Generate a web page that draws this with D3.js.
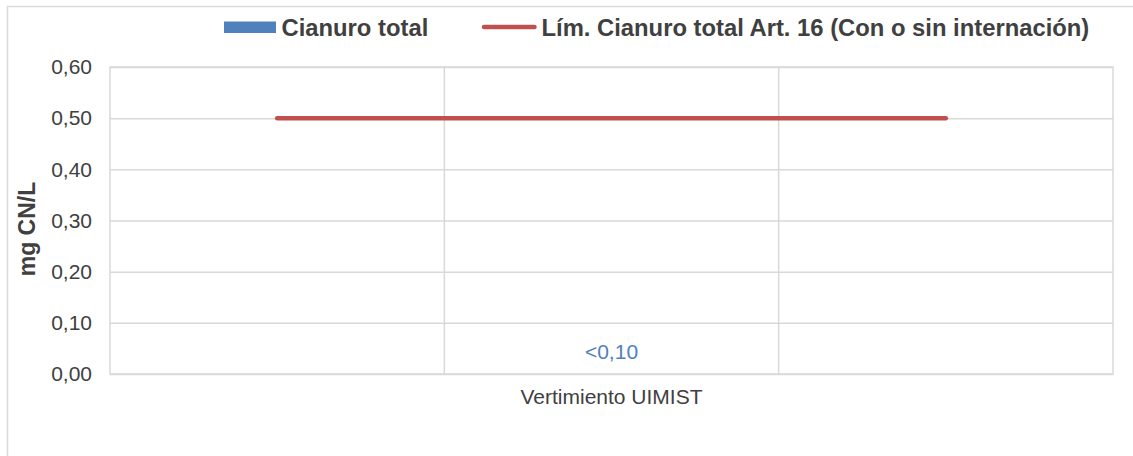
<!DOCTYPE html>
<html>
<head>
<meta charset="utf-8">
<script src="https://cdn.jsdelivr.net/npm/d3@7"></script>
<style>
  html, body { margin: 0; padding: 0; background: #fff; }
  svg { display: block; font-family: "Liberation Sans", Arial, sans-serif; }
</style>
</head>
<body>
<svg id="chart" width="1133" height="456"></svg>
<script>
// Sample category and measured total cyanide (reported below the detection limit)
const categories = ["Vertimiento UIMIST"];
const cianuroTotal = [0];
const cianuroLabels = ["<0,10"];

// Regulatory limit, drawn across three evenly spaced positions of a secondary axis
const limitPositions = ["a", "b", "c"];
const limitValues = [0.5, 0.5, 0.5];

// Y axis ticks
const yTicks = [0, 0.1, 0.2, 0.3, 0.4, 0.5, 0.6];

const seriesNames = ["Cianuro total", "Lím. Cianuro total Art. 16 (Con o sin internación)"];
const colors = { bar: "#4F81BD", line: "#C0504D", grid: "#D9D9D9", text: "#404040" };

const svg = d3.select("#chart");
const plot = { left: 110, top: 67, right: 1113, bottom: 374 };

// Outer chart frame
svg.append("rect")
  .attr("x", 7.5).attr("y", 6.5)
  .attr("width", 1140).attr("height", 470)
  .attr("fill", "#fff").attr("stroke", colors.grid).attr("stroke-width", 1.5);

const y = d3.scaleLinear().domain([0, 0.6]).range([plot.bottom, plot.top]);
const x = d3.scaleBand().domain(categories).range([plot.left, plot.right]).paddingInner(0).paddingOuter(0);
const x2 = d3.scaleBand().domain(limitPositions).range([plot.left, plot.right]);

const fmt = v => d3.format(".2f")(v).replace(".", ",");

// Horizontal gridlines
svg.append("g")
  .attr("transform", `translate(${plot.left},0)`)
  .call(d3.axisLeft(y).tickValues(yTicks).tickSize(-(plot.right - plot.left)).tickFormat(""))
  .call(g => g.select(".domain").remove())
  .call(g => g.selectAll("line").attr("stroke", colors.grid).attr("stroke-width", 1.5));

// Vertical gridlines at the secondary-axis band boundaries
svg.append("g").selectAll("line")
  .data(limitPositions.slice(1))
  .join("line")
  .attr("x1", d => x2(d)).attr("x2", d => x2(d))
  .attr("y1", plot.top).attr("y2", plot.bottom)
  .attr("stroke", colors.grid).attr("stroke-width", 1.5);

// Plot area frame
svg.append("rect")
  .attr("x", plot.left).attr("y", plot.top)
  .attr("width", plot.right - plot.left).attr("height", plot.bottom - plot.top)
  .attr("fill", "none").attr("stroke", colors.grid).attr("stroke-width", 1.5);

// Y axis tick labels
svg.append("g")
  .attr("transform", `translate(${plot.left},0)`)
  .call(d3.axisLeft(y).tickValues(yTicks).tickSize(0).tickPadding(18).tickFormat(fmt))
  .call(g => g.select(".domain").remove())
  .call(g => g.selectAll("text")
    .attr("fill", colors.text).attr("font-size", "21px")
    .attr("font-family", "'Liberation Sans', Arial, sans-serif"));

// X axis category label
svg.append("g")
  .attr("transform", `translate(0,${plot.bottom})`)
  .call(d3.axisBottom(x).tickSize(0).tickPadding(15))
  .call(g => g.select(".domain").remove())
  .call(g => g.selectAll("text")
    .attr("fill", colors.text).attr("font-size", "21px")
    .attr("font-family", "'Liberation Sans', Arial, sans-serif"));

// Cyanide bars
const barW = x.bandwidth() * 0.3;
svg.append("g").selectAll("rect")
  .data(categories)
  .join("rect")
  .attr("x", (d, i) => x(d) + x.bandwidth() / 2 - barW / 2)
  .attr("y", (d, i) => y(cianuroTotal[i]))
  .attr("width", barW)
  .attr("height", (d, i) => y(0) - y(cianuroTotal[i]))
  .attr("fill", colors.bar);

// Bar value labels
svg.append("g").selectAll("text")
  .data(categories)
  .join("text")
  .attr("x", d => x(d) + x.bandwidth() / 2)
  .attr("y", (d, i) => y(cianuroTotal[i]) - 15)
  .attr("text-anchor", "middle")
  .attr("font-size", "21px")
  .attr("fill", colors.bar)
  .text((d, i) => cianuroLabels[i]);

// Limit line
const line = d3.line()
  .x((d, i) => x2(limitPositions[i]) + x2.bandwidth() / 2)
  .y(d => y(d));
svg.append("path")
  .datum(limitValues)
  .attr("d", line)
  .attr("fill", "none")
  .attr("stroke", colors.line)
  .attr("stroke-width", 4.5)
  .attr("stroke-linecap", "round");

// Y axis title
svg.append("text")
  .attr("transform", `translate(35,229) rotate(-90)`)
  .attr("text-anchor", "middle")
  .attr("font-size", "23px")
  .attr("font-weight", "bold")
  .attr("fill", colors.text)
  .text("mg CN/L");

// Legend
const legend = svg.append("g");
legend.append("rect")
  .attr("x", 224).attr("y", 21.5).attr("width", 52).attr("height", 11.5)
  .attr("fill", colors.bar);
legend.append("text")
  .attr("x", 281.5).attr("y", 35.5)
  .attr("font-size", "23.8px").attr("font-weight", "bold").attr("fill", colors.text)
  .text(seriesNames[0]);
legend.append("line")
  .attr("x1", 484).attr("x2", 534.5).attr("y1", 27).attr("y2", 27)
  .attr("stroke", colors.line).attr("stroke-width", 4.5).attr("stroke-linecap", "round");
legend.append("text")
  .attr("x", 541.5).attr("y", 35.5)
  .attr("font-size", "23.8px").attr("font-weight", "bold").attr("fill", colors.text)
  .text(seriesNames[1]);
</script>
</body>
</html>
